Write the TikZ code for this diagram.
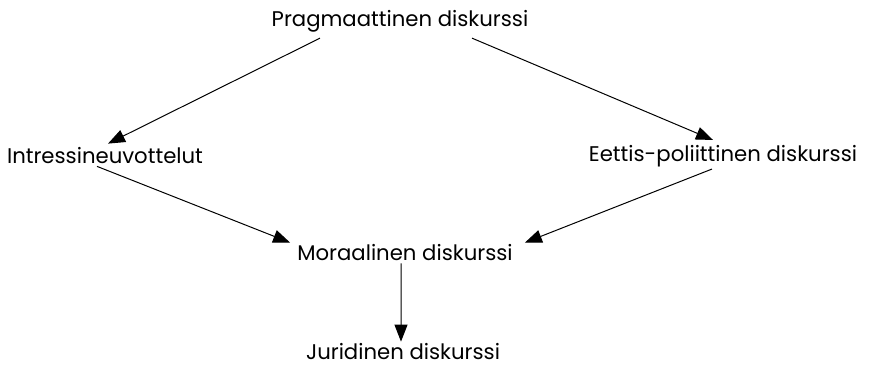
\documentclass[tikz,border=0pt]{standalone}
\usepackage{fontspec}
\setmainfont{Poppins}
\usepackage{tikz}
\usetikzlibrary{arrows.meta, positioning}

\begin{document}
\begin{tikzpicture}[
  x=1bp, y=-1bp,
  lbl/.style={inner sep=2bp, font=\fontsize{21.3}{25}\selectfont},
  arr/.style={-{Triangle[length=17bp, width=13bp]}, line width=1bp}
]
\useasboundingbox (0,0) rectangle (869,371);
% Discourses
\node[lbl] (prag) at (400,21)  {Pragmaattinen diskurssi};
\node[lbl] (intr) at (105,156) {Intressineuvottelut};
\node[lbl] (etti) at (723,156) {Eettis-poliittinen diskurssi};
\node[lbl] (mora) at (405,253) {Moraalinen diskurssi};
\node[lbl] (juri) at (403,352) {Juridinen diskurssi};
% Arrows
\draw[arr] ([xshift=-80bp, yshift=-4bp]prag.south) -- ([xshift=3bp, yshift=2bp]intr.north);
\draw[arr] ([xshift=72bp, yshift=-4bp]prag.south)  -- ([xshift=-10bp, yshift=3bp]etti.north);
\draw[arr] ([xshift=-8bp]intr.south)  -- ([xshift=-5bp]mora.north west);
\draw[arr] ([xshift=-11bp]etti.south) -- ([xshift=10bp]mora.north east);
\draw[arr] ([xshift=-4bp]mora.south)  -- ([xshift=-2bp]juri.north);
\end{tikzpicture}
\end{document}
